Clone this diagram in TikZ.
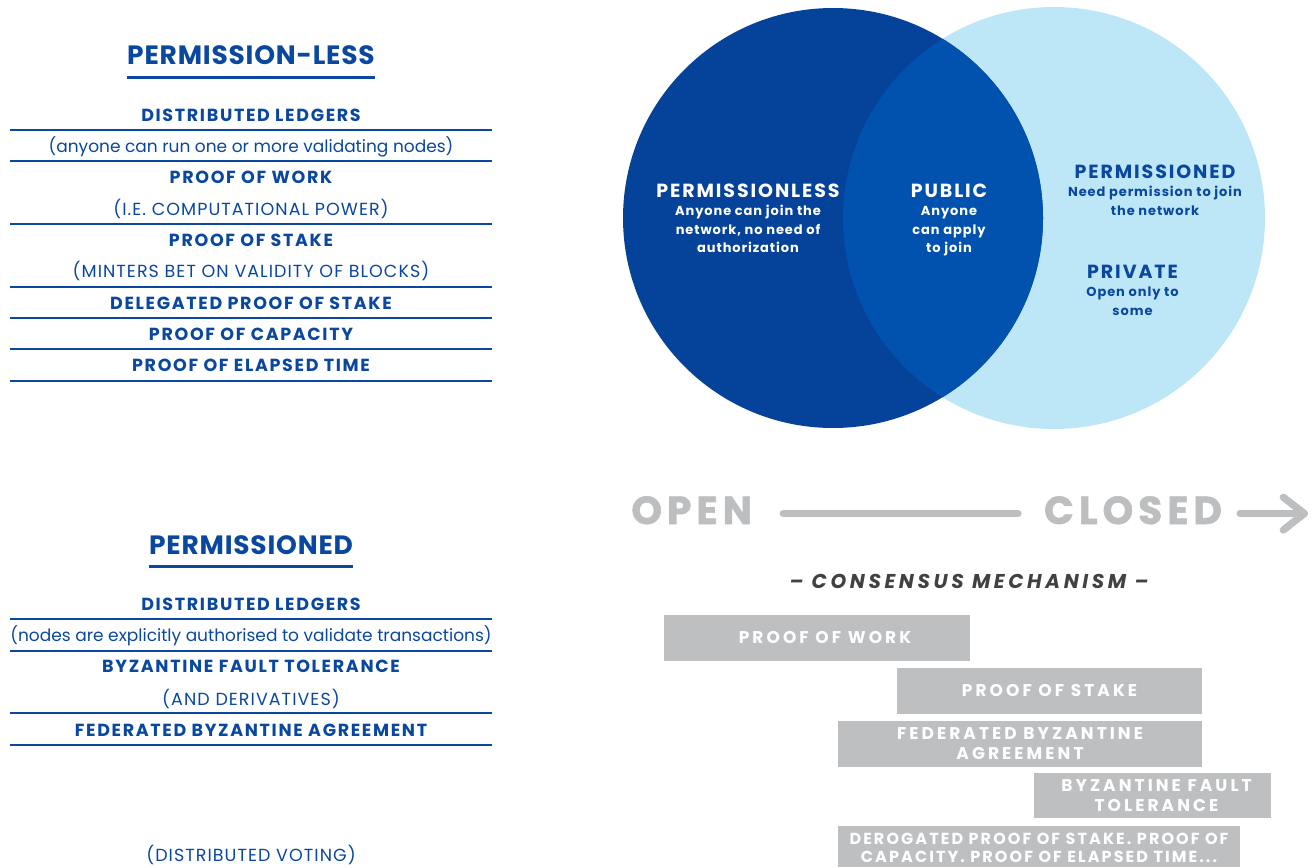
\documentclass[tikz,border=0pt]{standalone}
\usepackage{fontspec}
\setmainfont{Poppins}
\newfontfamily\popTitle{Poppins}[LetterSpace=3]
\newfontfamily\popItem{Poppins}[LetterSpace=9.5]
\newfontfamily\popNote{Poppins}
\newfontfamily\popCaps{Poppins}[LetterSpace=6]
\newfontfamily\popVT{Poppins}[LetterSpace=10]
\newfontfamily\popVS{Poppins}[LetterSpace=7]
\newfontfamily\popBig{Poppins}[LetterSpace=13,FakeBold=1.5]
\newfontfamily\popCM{Poppins}[LetterSpace=18]
\newfontfamily\popBar{Poppins}[LetterSpace=18]
\newfontfamily\popBarS{Poppins}[LetterSpace=13]
\definecolor{tblue}{HTML}{0A48A0}
\definecolor{vdark}{HTML}{05429A}
\definecolor{vmid}{HTML}{0052AE}
\definecolor{vlight}{HTML}{BDE6F6}
\definecolor{bargrey}{HTML}{BEBFC1}
\definecolor{biggrey}{HTML}{BDBEC0}
\definecolor{dgrey}{HTML}{414143}
\tikzset{
  ttltxt/.style={font=\popTitle\fontsize{26.5}{30}\selectfont\bfseries, text=tblue, inner sep=0pt, anchor=base},
  itmtxt/.style={font=\popItem\fontsize{17.5}{20}\selectfont\bfseries, text=tblue, inner sep=0pt, anchor=base},
  notetxt/.style={font=\popNote\fontsize{17}{20}\selectfont, text=tblue, inner sep=0pt, anchor=base},
  capsnotetxt/.style={font=\popCaps\fontsize{17.5}{20}\selectfont, text=tblue, inner sep=0pt, anchor=base},
  rulel/.style={draw=tblue, line width=2.3pt},
  vtitletxt/.style={font=\popVT\fontsize{19}{22}\selectfont\bfseries, inner sep=0pt, anchor=base},
  vsubtxt/.style={font=\popVS\fontsize{13}{16}\selectfont\bfseries, inner sep=0pt, anchor=base},
  bigtxt/.style={font=\popBig\fontsize{39}{44}\selectfont\bfseries, text=biggrey, inner sep=0pt, anchor=base},
  bigline/.style={draw=biggrey, line width=7.3pt, line cap=round, line join=round},
  constxt/.style={font=\popCM\fontsize{20}{22}\selectfont\bfseries\itshape, text=dgrey, inner sep=0pt, anchor=base},
  barbox/.style={fill=bargrey, text=white, inner sep=0pt, align=center, minimum height=45.5pt,
     font=\popBar\fontsize{17}{19.5}\selectfont\bfseries},
}
\begin{document}
\begin{tikzpicture}[x=1pt,y=-1pt]
\clip (0,0) rectangle (1316,867);
\useasboundingbox (0,0) rectangle (1316,867);

% ---------- left: permission-less ----------
\node[ttltxt] (t1) at (251,64.3) {PERMISSION-LESS};
\draw[rulel, line width=2.6pt] (t1.west |- 0,77.3) -- (t1.east |- 0,77.3);
\node[itmtxt] (a1) at (251,121) {DISTRIBUTED LEDGERS};
\node[notetxt] (a2) at (251,152.7) {(anyone can run one or more validating nodes)};
\node[itmtxt] (a3) at (251,183.3) {PROOF OF WORK};
\node[capsnotetxt] (a4) at (251,215.7) {(I.E. COMPUTATIONAL POWER)};
\node[itmtxt] (a5) at (251,246) {PROOF OF STAKE};
\node[capsnotetxt] (a6) at (251,277.3) {(MINTERS BET ON VALIDITY OF BLOCKS)};
\node[itmtxt] (a7) at (251,309.3) {DELEGATED PROOF OF STAKE};
\node[itmtxt] (a8) at (251,340.3) {PROOF OF CAPACITY};
\node[itmtxt] (a9) at (251,371) {PROOF OF ELAPSED TIME};
\foreach \yy in {130,161.3,224,287.3,318,349.3,380.7}
  \draw[rulel] (10,\yy) -- (492,\yy);

% ---------- left: permissioned ----------
\node[ttltxt] (t2) at (251,554.3) {PERMISSIONED};
\draw[rulel, line width=2.6pt] (t2.west |- 0,566.7) -- (t2.east |- 0,566.7);
\node[itmtxt] (b1) at (251,610.7) {DISTRIBUTED LEDGERS};
\node[notetxt] (b2) at (251,641.7) {(nodes are explicitly authorised to validate transactions)};
\node[itmtxt] (b3) at (251,672.7) {BYZANTINE FAULT TOLERANCE};
\node[capsnotetxt] (b4) at (251,705) {(AND DERIVATIVES)};
\node[itmtxt] (b5) at (251,736) {FEDERATED BYZANTINE AGREEMENT};
\node[capsnotetxt] (b6) at (251,861.7) {(DISTRIBUTED VOTING)};
\foreach \yy in {619.3,650.7,713.3,744.7}
  \draw[rulel] (10,\yy) -- (492,\yy);

% ---------- Venn ----------
\fill[vlight] (1054,218) circle[radius=211pt];
\fill[vdark] (833,218) circle[radius=210pt];
\begin{scope}
  \clip (833,218) circle[radius=210pt];
  \fill[vmid] (1054,218) circle[radius=211pt];
\end{scope}

\node[vtitletxt, text=white] (pl) at (748,197.3) {PERMISSIONLESS};
\node[vsubtxt, text=white] (pl1) at (748,215.7) {Anyone can join the};
\node[vsubtxt, text=white] (pl2) at (748,234) {network, no need of};
\node[vsubtxt, text=white] (pl3) at (748,252.3) {authorization};

\node[vtitletxt, text=white] (pu) at (949,197.3) {PUBLIC};
\node[vsubtxt, text=white] (pu1) at (949,215.7) {Anyone};
\node[vsubtxt, text=white] (pu2) at (949,234) {can apply};
\node[vsubtxt, text=white] (pu3) at (949,252.3) {to join};

\node[vtitletxt, text=tblue] (pe) at (1155,178.3) {PERMISSIONED};
\node[vsubtxt, text=tblue] (pe1) at (1155,196.7) {Need permission to join};
\node[vsubtxt, text=tblue] (pe2) at (1155,215) {the network};

\node[vtitletxt, text=tblue] (pr) at (1132.5,278.3) {PRIVATE};
\node[vsubtxt, text=tblue] (pr1) at (1132.5,296.7) {Open only to};
\node[vsubtxt, text=tblue] (pr2) at (1132.5,315) {some};

% ---------- open / closed ----------
\node[bigtxt] (open) at (691.7,524) {OPEN};
\node[bigtxt] (closed) at (1133,524) {CLOSED};
\coordinate (tip) at (1304.3,513.5);
\draw[bigline] ([xshift=31pt]open.east |- 0,513.7) -- ([xshift=-26pt]closed.west |- 0,513.7);
\draw[bigline] ([xshift=18pt]closed.east |- 0,513.5) -- (tip);
\draw[bigline] ([shift={(-21,-16.2)}]tip) -- (tip) -- ([shift={(-21,16.5)}]tip);

\node[constxt] (cons) at (969,588.3) {– CONSENSUS MECHANISM –};

% ---------- bars ----------
\node[barbox, minimum width=306pt] (pow) at (817,637.8) {\hspace*{16pt}PROOF OF WORK};
\node[barbox, minimum width=305pt] (pos) at (1049.5,690.8) {PROOF OF STAKE};
\node[barbox, minimum width=364pt] (fba) at (1020,743.8) {FEDERATED BYZANTINE\\AGREEMENT};
\node[barbox, minimum width=237pt] (bft) at (1152.5,795.5) {\hspace*{8pt}BYZANTINE FAULT\\\hspace*{8pt}TOLERANCE};
\node[barbox, minimum width=402pt, minimum height=41pt, text height=32pt, text depth=0pt,
      font=\popBarS\fontsize{16}{18}\selectfont\bfseries] (dpos) at (1039,846.5)
      {DEROGATED PROOF OF STAKE. PROOF OF\\CAPACITY. PROOF OF ELAPSED TIME...};
\end{tikzpicture}
\end{document}
